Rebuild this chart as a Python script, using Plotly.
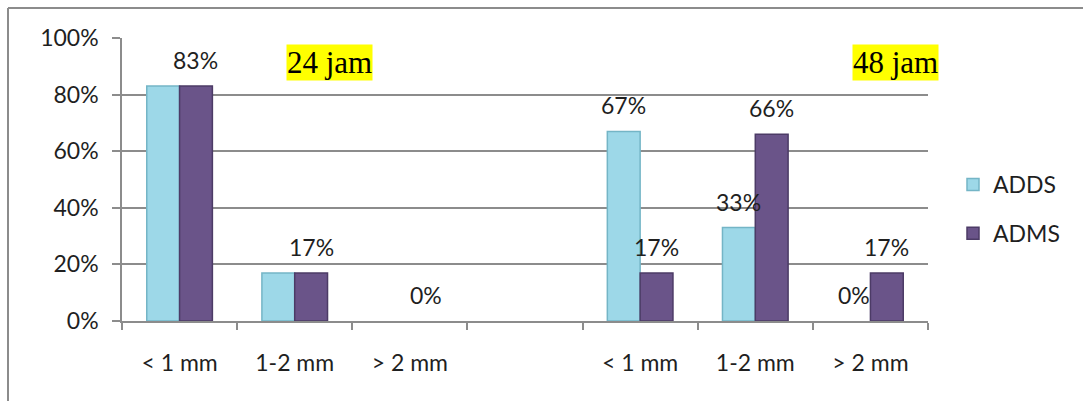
import plotly.graph_objects as go

# Categories (index 3 is an empty spacer between the two time groups)
categories = ["< 1 mm", "1-2 mm", "> 2 mm", "", "< 1 mm", "1-2 mm", "> 2 mm"]
adds_values = [83, 17, 0, None, 67, 33, 0]
adms_values = [83, 17, 0, None, 17, 66, 17]
# which bars carry a value label
adds_labelled = [False, False, False, False, True, True, True]
adms_labelled = [True, True, True, False, True, True, True]
y_ticks = [0, 20, 40, 60, 80, 100]
y_tick_text = [f"{v}%" for v in y_ticks]
group_titles = ["24 jam", "48 jam"]

W, H = 1083, 401
L, R, T, B = 122, 928, 38, 321   # plot area in pixels
BARGAP = 0.43
HALF = (1 - BARGAP) / 4          # offset of each bar centre from category centre

x = list(range(len(categories)))

LABEL_FONT = dict(family="Lato, 'Open Sans', sans-serif", size=23, color="#1f1f1f")
GRID = "#8c8c8c"


def px_x(p):
    return (p - L) / (R - L)


def px_y(p):
    return (B - p) / (B - T)


def outline_widths(values):
    # no outline on empty bars so nothing is drawn at the baseline
    return [0 if not v else 1.5 for v in values]


fig = go.Figure()
fig.add_trace(go.Bar(
    x=x, y=adds_values, name="ADDS",
    marker=dict(color="#9dd8e8",
                line=dict(color="#74b5c6", width=outline_widths(adds_values))),
    legendgroup="a",
))
fig.add_trace(go.Bar(
    x=x, y=adms_values, name="ADMS",
    marker=dict(color="#6a5489",
                line=dict(color="#4c3b66", width=outline_widths(adms_values))),
    legendgroup="b",
))

annotations = []
for i, (v, show) in enumerate(zip(adds_values, adds_labelled)):
    if show and v is not None:
        annotations.append(dict(x=i - HALF, y=v, text=f"{v}%", showarrow=False,
                                yanchor="middle", yshift=26, font=LABEL_FONT))
for i, (v, show) in enumerate(zip(adms_values, adms_labelled)):
    if show and v is not None:
        annotations.append(dict(x=i + HALF, y=v, text=f"{v}%", showarrow=False,
                                yanchor="middle", yshift=26, font=LABEL_FONT))

# group titles with yellow highlight
title_font = dict(family="'Liberation Serif', 'Times New Roman', serif", size=31, color="#000000")
annotations.append(dict(xref="paper", yref="paper", x=px_x(329), y=px_y(62),
                        text=group_titles[0], showarrow=False, font=title_font,
                        bgcolor="#ffff00", borderpad=0, xanchor="center", yanchor="middle"))
annotations.append(dict(xref="paper", yref="paper", x=px_x(895), y=px_y(62),
                        text=group_titles[1], showarrow=False, font=title_font,
                        bgcolor="#ffff00", borderpad=0, xanchor="center", yanchor="middle"))

shapes = [
    # white boxes behind the group titles (hide gridlines)
    dict(type="rect", xref="paper", yref="paper", x0=px_x(264), x1=px_x(398),
         y0=px_y(104), y1=px_y(24), fillcolor="white", line=dict(width=0), layer="below"),
    dict(type="rect", xref="paper", yref="paper", x0=px_x(830), x1=px_x(940),
         y0=px_y(86), y1=px_y(24), fillcolor="white", line=dict(width=0), layer="below"),
    # outer frame
    dict(type="line", xref="paper", yref="paper", x0=px_x(8), x1=px_x(W + 5),
         y0=px_y(8), y1=px_y(8), line=dict(color="#8c8c8c", width=2)),
    dict(type="line", xref="paper", yref="paper", x0=px_x(8), x1=px_x(8),
         y0=px_y(8), y1=px_y(H + 5), line=dict(color="#8c8c8c", width=2)),
]

fig.update_layout(
    width=W, height=H,
    margin=dict(l=L, r=W - R, t=T, b=H - B),
    paper_bgcolor="white", plot_bgcolor="white",
    barmode="group", bargap=BARGAP, bargroupgap=0,
    font=LABEL_FONT,
    annotations=annotations,
    shapes=shapes,
    legend=dict(x=px_x(953), y=px_y(163), xanchor="left", yanchor="top",
                font=LABEL_FONT, tracegroupgap=16, bgcolor="rgba(0,0,0,0)"),
    xaxis=dict(
        range=[-0.5, len(categories) - 0.5],
        tickmode="array", tickvals=x, ticktext=categories,
        ticks="", showgrid=False, zeroline=False,
        showline=True, linecolor=GRID, linewidth=1.5,
        ticklabelstandoff=21,
        minor=dict(tickmode="linear", tick0=-0.5, dtick=1, ticks="outside",
                   ticklen=7, tickcolor=GRID, tickwidth=1.5, showgrid=False),
        fixedrange=True,
    ),
    yaxis=dict(
        range=[0, 100], tickmode="array", tickvals=y_ticks, ticktext=y_tick_text,
        ticks="outside", ticklen=8, tickcolor=GRID, tickwidth=1.5,
        showgrid=True, gridcolor=GRID, gridwidth=1.5,
        showline=True, linecolor=GRID, linewidth=1.5,
        zeroline=False, ticklabelstandoff=9,
        fixedrange=True,
    ),
)

fig.write_html("out.html")
